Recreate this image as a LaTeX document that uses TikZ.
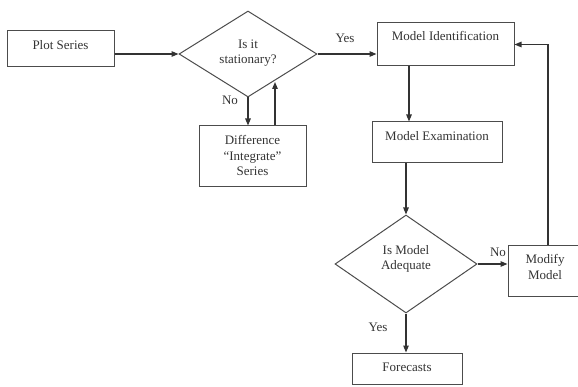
\documentclass[tikz,border=0pt]{standalone}
\usepackage{fontspec}
\setmainfont{Liberation Serif}
\usetikzlibrary{shapes.geometric,arrows.meta}
\begin{document}
\begin{tikzpicture}[x=1pt,y=-1pt,
  box/.style={draw=black!70,line width=1pt,rectangle,inner sep=0pt},
  dia/.style={draw=black!70,line width=1pt,diamond,inner sep=0pt},
  txt/.style={font=\fontsize{13}{15.5}\selectfont,text=black!80,align=center,inner sep=0pt},
  arr/.style={draw=black!80,line width=1.2pt,-{Triangle[length=7pt,width=5.5pt]}}]
\useasboundingbox (0,0) rectangle (578,387);
\clip (0,0) rectangle (578,387);
% boxes
\node[box,minimum width=107pt,minimum height=36pt] (ps) at (60.5,49) {};
\node[txt] (pst) at (60.5,45) {Plot Series};
\node[dia,minimum width=138pt,minimum height=86pt,aspect=1.6] (d1) at (248,54) {};
\node[txt] (d1t) at (248,53) {Is it\\stationary?};
\node[box,minimum width=107pt,minimum height=61pt] (diff) at (252.5,156.5) {};
\node[txt] (difft) at (252.5,155.5) {Difference\\``Integrate''\\Series};
\node[box,minimum width=137pt,minimum height=43pt] (mi) at (445.5,44.5) {};
\node[txt] (mit) at (445.5,36) {Model Identification};
\node[box,minimum width=130pt,minimum height=41pt] (me) at (437,142.5) {};
\node[txt] (met) at (437,136) {Model Examination};
\node[dia,minimum width=142pt,minimum height=98pt,aspect=1.45] (d2) at (406,264) {};
\node[txt] (d2t) at (406,259) {Is Model\\Adequate};
\node[box,minimum width=84pt,minimum height=50pt] (mm) at (550,271) {};
\node[txt] (mmt) at (545,267) {Modify\\Model};
\node[box,minimum width=110pt,minimum height=31pt] (fc) at (407,368.5) {};
\node[txt] (fct) at (407,367) {Forecasts};
% labels
\node[txt] (no1) at (230,100) {No};
\node[txt] (yes1) at (345,38) {Yes};
\node[txt] (no2) at (498,252) {No};
\node[txt] (yes2) at (378,327) {Yes};
% helper coordinates
\coordinate (u1) at (275,82);
\coordinate (cA) at (409,0);
\coordinate (cB) at (548,0);
% connectors
\draw[arr] (ps.east |- d1.west) -- (d1.west);
\draw[arr] (d1.east) -- (mi.west |- d1.east);
\draw[arr] (d1.south) -- (d1.south |- diff.north);
\draw[arr] (diff.north -| u1) -- (u1);
\draw[arr] (mi.south -| cA) -- (me.north -| cA);
\draw[arr] (me.south -| d2.north) -- (d2.north);
\draw[arr] (d2.east) -- (d2.east -| mm.west);
\draw[arr] (mm.north -| cB) |- (mi.east);
\draw[arr] (d2.south) -- (d2.south |- fc.north);
\end{tikzpicture}
\end{document}
